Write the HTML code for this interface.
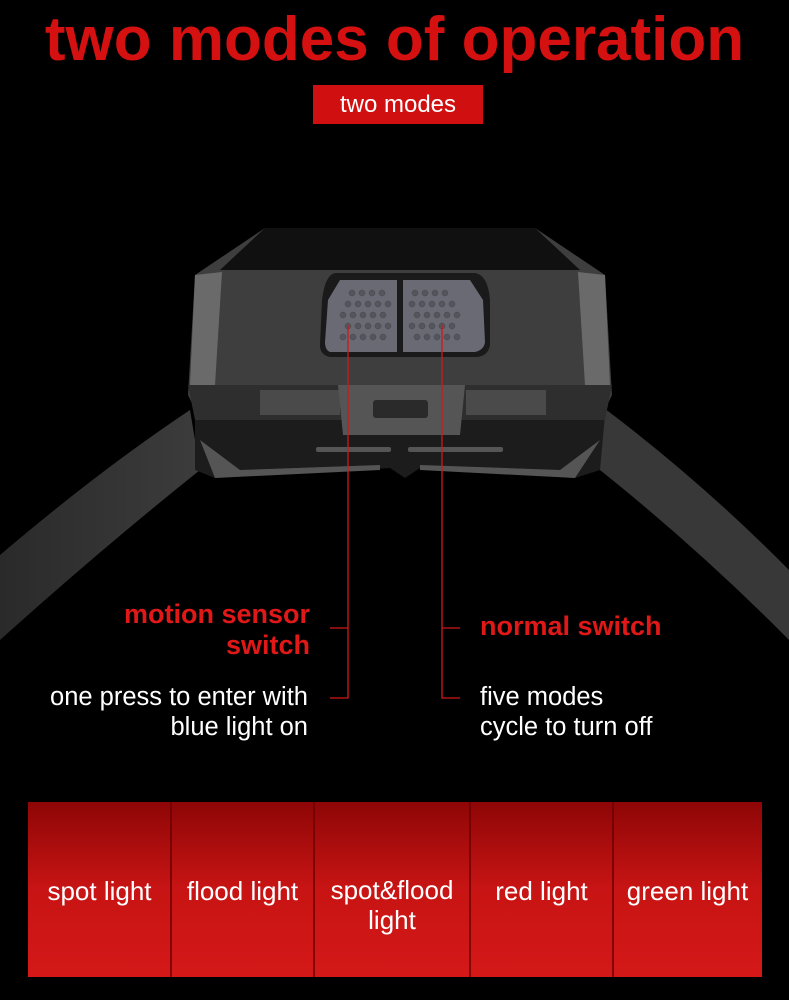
<!DOCTYPE html>
<html><head><meta charset="utf-8"><style>
html,body{margin:0;padding:0;background:#000;}
body{width:789px;height:1000px;position:relative;overflow:hidden;font-family:"Liberation Sans",sans-serif;}
.t{position:absolute;white-space:nowrap;}
</style></head><body>
<svg width="789" height="1000" style="position:absolute;left:0;top:0">
<defs>
<linearGradient id="cell" x1="0" y1="0" x2="0" y2="1">
<stop offset="0" stop-color="#8e0606"/><stop offset="0.5" stop-color="#c81414"/><stop offset="1" stop-color="#d41818"/>
</linearGradient>
<linearGradient id="strap" x1="0" y1="0" x2="1" y2="0">
<stop offset="0" stop-color="#2a2a2a"/><stop offset="1" stop-color="#3c3c3c"/>
</linearGradient>
</defs>
<rect width="789" height="1000" fill="#000"/>
<path d="M0 555 Q100 470 190 410 L200 470 Q100 550 0 640 Z" fill="url(#strap)"/>
<path d="M789 570 Q700 480 600 405 L600 470 Q700 550 789 640 Z" fill="#383838"/>
<path d="M195 415 L605 415 L600 470 L575 478 L420 468 L405 478 L390 468 L215 478 L195 470 Z" fill="#1c1c1c"/>
<path d="M200 440 L240 470 L380 465 L380 470 L215 478 Z" fill="#555"/>
<path d="M600 440 L560 470 L420 465 L420 470 L575 478 Z" fill="#555"/>
<rect x="316" y="447" width="75" height="5" rx="2" fill="#555"/>
<rect x="408" y="447" width="95" height="5" rx="2" fill="#555"/>
<path d="M265 228 L535 228 L605 275 L612 395 L600 420 L200 420 L188 395 L195 275 Z" fill="#3e3e3e"/>
<path d="M265 228 L535 228 L580 270 L220 270 Z" fill="#101010"/>
<path d="M195 275 L222 272 L215 385 L190 385 Z" fill="#6a6a6a"/>
<path d="M605 275 L578 272 L585 385 L610 385 Z" fill="#6a6a6a"/>
<path d="M188 385 L612 385 L605 420 L195 420 Z" fill="#2e2e2e"/>
<rect x="260" y="390" width="80" height="25" fill="#4a4a4a"/>
<rect x="466" y="390" width="80" height="25" fill="#4a4a4a"/>
<path d="M338 385 L465 385 L460 435 L343 435 Z" fill="#555"/>
<rect x="373" y="400" width="55" height="18" rx="3" fill="#2a2a2a"/>
<path d="M335 273 L475 273 Q488 275 490 300 L490 345 Q488 357 475 357 L330 357 Q320 355 320 345 L322 300 Q325 275 335 273 Z" fill="#1a1a1a"/>
<path d="M340 280 L397 280 L397 352 L330 352 Q325 350 325 342 L328 300 Z" fill="#6a6a75"/>
<path d="M403 280 L470 280 L483 300 L485 342 Q484 350 475 352 L403 352 Z" fill="#6a6a75"/>
<g fill="#55555f" stroke="#444" stroke-width="0.5">
<circle cx="352" cy="293" r="3"/><circle cx="362" cy="293" r="3"/><circle cx="372" cy="293" r="3"/><circle cx="382" cy="293" r="3"/>
<circle cx="348" cy="304" r="3"/><circle cx="358" cy="304" r="3"/><circle cx="368" cy="304" r="3"/><circle cx="378" cy="304" r="3"/><circle cx="388" cy="304" r="3"/>
<circle cx="343" cy="315" r="3"/><circle cx="353" cy="315" r="3"/><circle cx="363" cy="315" r="3"/><circle cx="373" cy="315" r="3"/><circle cx="383" cy="315" r="3"/>
<circle cx="348" cy="326" r="3"/><circle cx="358" cy="326" r="3"/><circle cx="368" cy="326" r="3"/><circle cx="378" cy="326" r="3"/><circle cx="388" cy="326" r="3"/>
<circle cx="343" cy="337" r="3"/><circle cx="353" cy="337" r="3"/><circle cx="363" cy="337" r="3"/><circle cx="373" cy="337" r="3"/><circle cx="383" cy="337" r="3"/>
<circle cx="415" cy="293" r="3"/><circle cx="425" cy="293" r="3"/><circle cx="435" cy="293" r="3"/><circle cx="445" cy="293" r="3"/>
<circle cx="412" cy="304" r="3"/><circle cx="422" cy="304" r="3"/><circle cx="432" cy="304" r="3"/><circle cx="442" cy="304" r="3"/><circle cx="452" cy="304" r="3"/>
<circle cx="417" cy="315" r="3"/><circle cx="427" cy="315" r="3"/><circle cx="437" cy="315" r="3"/><circle cx="447" cy="315" r="3"/><circle cx="457" cy="315" r="3"/>
<circle cx="412" cy="326" r="3"/><circle cx="422" cy="326" r="3"/><circle cx="432" cy="326" r="3"/><circle cx="442" cy="326" r="3"/><circle cx="452" cy="326" r="3"/>
<circle cx="417" cy="337" r="3"/><circle cx="427" cy="337" r="3"/><circle cx="437" cy="337" r="3"/><circle cx="447" cy="337" r="3"/><circle cx="457" cy="337" r="3"/>
</g>
<g stroke="#d01818" stroke-width="1.3" fill="none">
<path d="M348 325 L348 698 L330 698"/><path d="M348 628 L330 628"/>
<path d="M442 325 L442 698 L460 698"/><path d="M442 628 L460 628"/>
</g>
<rect x="28" y="802" width="734" height="175" fill="url(#cell)"/>
<g stroke="#6a0000" stroke-width="1.5">
<line x1="171" y1="802" x2="171" y2="977"/><line x1="314" y1="802" x2="314" y2="977"/>
<line x1="470" y1="802" x2="470" y2="977"/><line x1="613" y1="802" x2="613" y2="977"/>
</g>
</svg>
<div class="t" style="left:0;width:789px;text-align:center;top:4px;font-size:62px;font-weight:bold;color:#d41010;line-height:72px;">two modes of operation</div>
<div class="t" style="left:313px;top:85px;width:170px;height:39px;background:#d01010;color:#fff;font-size:24px;line-height:39px;text-align:center;">two modes</div>
<div class="t" style="right:479px;top:599px;text-align:right;color:#e01818;font-weight:bold;font-size:27px;line-height:31px;">motion sensor<br>switch</div>
<div class="t" style="left:480px;top:611px;color:#e01818;font-weight:bold;font-size:27px;line-height:31px;">normal switch</div>
<div class="t" style="right:481px;top:682px;text-align:right;color:#fff;font-size:25.5px;line-height:30px;">one press to enter with<br>blue light on</div>
<div class="t" style="left:480px;top:682px;color:#fff;font-size:25.5px;line-height:30px;">five modes<br>cycle to turn off</div>
<div class="t" style="left:28px;width:143px;top:876px;text-align:center;color:#fff;font-size:26px;">spot light</div>
<div class="t" style="left:171px;width:143px;top:876px;text-align:center;color:#fff;font-size:26px;">flood light</div>
<div class="t" style="left:314px;width:156px;top:875px;text-align:center;color:#fff;font-size:26px;line-height:30px;">spot&amp;flood<br>light</div>
<div class="t" style="left:470px;width:143px;top:876px;text-align:center;color:#fff;font-size:26px;">red light</div>
<div class="t" style="left:613px;width:149px;top:876px;text-align:center;color:#fff;font-size:26px;">green light</div>
</body></html>
